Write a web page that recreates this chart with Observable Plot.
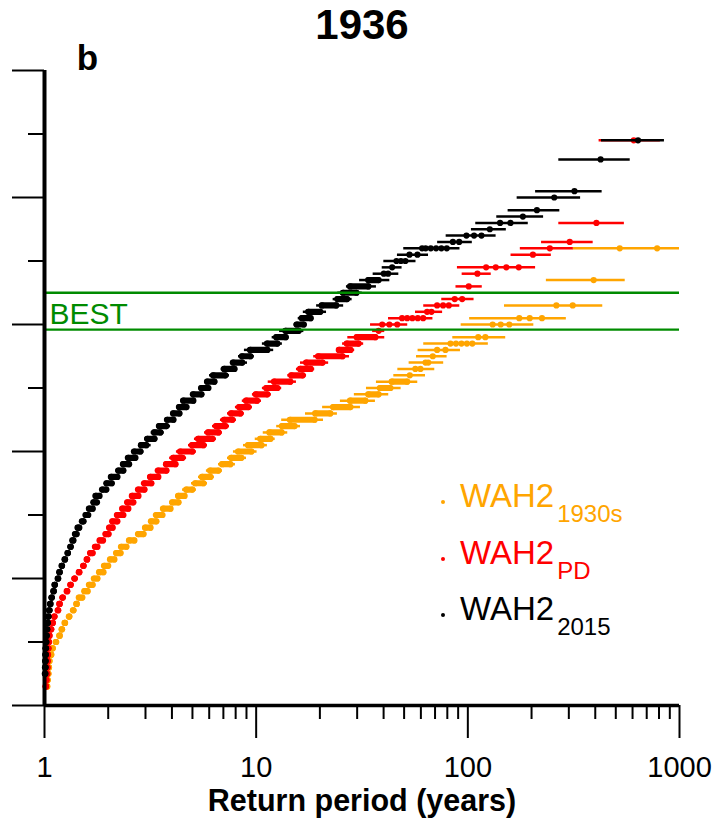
<!DOCTYPE html>
<html>
<head>
<meta charset="utf-8">
<script src="https://cdn.jsdelivr.net/npm/d3@7"></script>
<script src="https://cdn.jsdelivr.net/npm/@observablehq/plot@0.6"></script>
<style>
  body { margin: 0; background: #fff; }
  svg { display: block; }
</style>
</head>
<body>
<div id="chart"></div>
<script>
// ---------- text & ticks ----------
const titleText = "1936";
const panelText = "b";
const xLabelText = "Return period (years)";
const bestLabel = "BEST";
const xMajor = [1, 10, 100, 1000];
const xMinor = [2, 3, 4, 5, 6, 7, 8, 9, 20, 30, 40, 50, 60, 70, 80, 90, 200, 300, 400, 500, 600, 700, 800, 900];
const yMajor = [0, 2, 4, 6, 8, 10];
const yMinor = [1, 3, 5, 7, 9];
const bestRange = [5.92, 6.50];
const legendNames = ["1930s", "PD", "2015"];
const colors = {orange: "#FFA500", red: "#FF0000", black: "#000000", green: "#008B00"};

// ---------- data: [y, ciLow, ciHigh, [return periods of points]] ----------
const blackPoints = [
  [8.9, 428, 849, [637]],
  [8.6, 269, 585, [424]],
  [8.1, 209, 431, [319]],
  [8.0, 171, 341, [256]],
  [7.8, 155, 272, [212]],
  [7.7, 137, 228, [182]],
  [7.6, 109, 193, [142, 159]],
  [7.5, 104, 152, [127]],
  [7.4, 79, 136, [98.5, 107, 116]],
  [7.3, 72, 105, [85, 91]],
  [7.2, 49.8, 91.8, [60.8, 63.2, 66.8, 70.8, 75, 79.5]],
  [7.1, 46.5, 65.2, [53, 57.8]],
  [7.0, 40.1, 56.9, [46, 48.3, 50.7]],
  [6.9, 39.4, 48.9, [43.9]],
  [6.8, 35.7, 47.2, [40.1, 42]]
];
// dense rows: [y, ciLow, ciHigh, firstPoint, lastPoint]  or [y, point]
const blackRows = [
  [6.7, 30.8, 42.8, 34, 37.9], [6.6, 26.7, 37, 27.9, 33.9], [6.5, 24.3, 31.7, 25.8, 29.8],
  [6.4, 23.1, 28.4, 24.3, 26.9], [6.3, 19.3, 25.9, 20.5, 23.9], [6.2, 16.7, 21.5, 17.7, 20.1],
  [6.1, 15.8, 18.7, 16.5, 18.1], [6.0, 15.1, 17.3, 15.6, 16.8], [5.9, 12.9, 16.8, 13.8, 15.9],
  [5.8, 11.9, 14.3, 12.5, 13.8], [5.7, 10.7, 13.3, 11.3, 12.6], [5.6, 8.8, 12.1, 9.4, 11.3],
  [5.5, 8.25, 9.8, 8.6, 9.4], [5.4, 7.56, 9.1, 7.8, 8.6], [5.3, 6.83, 8.19, 7.08, 7.9],
  [5.2, 6.02, 7.48, 6.28, 7.16], [5.1, 5.74, 6.59, 5.89, 6.35], [5.0, 5.4, 6.13, 5.52, 5.95],
  [4.9, 4.9, 5.7, 5.05, 5.52], [4.8, 4.42, 5.22, 4.54, 5.05], [4.7, 4.25, 4.77, 4.34, 4.69],
  [4.6, 3.97, 4.5, 4.07, 4.34], [4.5, 3.72, 4.19, 3.81, 4.07], [4.4, 3.4, 3.94, 3.49, 3.77],
  [4.3, 3.19, 3.68, 3.31, 3.53], [4.2, 2.97, 3.43, 3.07, 3.31], [4.1, 2.78, 3.19, 2.87, 3.03],
  [4.0, 2.61, 2.95, 2.66, 2.84], [3.9, 2.43, 2.78, 2.49, 2.69], [3.8, 2.3, 2.59, 2.36, 2.51],
  [3.7, 2.18, 2.43, 2.24, 2.36], [3.6, 2.03, 2.29, 2.07, 2.21], [3.5, 1.94, 2.14, 1.97, 2.08],
  [3.4, 1.84, 2.03, 1.88, 1.96], [3.3, 1.71, 1.86, 1.75, 1.82], [3.2, 1.68, 1.8, 1.71, 1.77],
  [3.1, 1.61, 1.71, 1.63, 1.69], [3.0, 1.55, 1.63, 1.57, 1.61], [2.9, 1.49, 1.55, 1.51, 1.53],
  [2.8, 1.43, 1.48, 1.44, 1.46], [2.7, 1.39, 1.43, 1.4, 1.42], [2.6, 1.35, 1.38, 1.36, 1.37],
  [2.5, 1.33], [2.4, 1.29], [2.3, 1.25], [2.2, 1.21], [2.1, 1.18], [2.0, 1.16], [1.9, 1.12],
  [1.8, 1.106], [1.7, 1.083], [1.6, 1.067], [1.5, 1.056], [1.4, 1.044], [1.3, 1.036],
  [1.2, 1.03], [1.1, 1.024], [1.0, 1.02], [0.9, 1.016], [0.8, 1.014], [0.7, 1.012],
  [0.6, 1.011], [0.5, 1.009]
];

const redPoints = [
  [8.9, 417, 812, [608]],
  [7.6, 269, 549, [405]],
  [7.3, 223, 391, [303]],
  [7.2, 177, 315, [244]],
  [7.1, 160, 248, [203]],
  [6.9, 89.3, 209, [122, 135.5, 152, 174]],
  [6.8, 94, 129, [111]],
  [6.6, 87.9, 117, [101]],
  [6.4, 75.3, 107, [86.7, 94]],
  [6.3, 61.9, 91.6, [71.6, 76.4, 81.3]],
  [6.2, 56.6, 76, [64.2, 67.3]],
  [6.1, 42.2, 68.4, [48.9, 51.7, 54.7, 58, 61.5]],
  [6.0, 34.7, 52, [39.4, 42.6, 46.4]],
  [5.9, 35.5, 40.5, [37.9]]
];
const redRows = [
  [5.8, 27.1, 40.5, 30, 36.6], [5.7, 25.6, 32.2, 26.9, 30.5], [5.6, 24.1, 29.2, 24.7, 27.9],
  [5.5, 18.7, 27.6, 19.7, 25.6], [5.4, 16.2, 22, 17.3, 20.6], [5.3, 15.5, 18.9, 16.2, 18.1],
  [5.2, 14.1, 17.3, 14.7, 16.6], [5.1, 11.4, 15.5, 12.2, 14.5], [5.0, 10.7, 13.2, 11.2, 12.6],
  [4.9, 9.6, 11.8, 10.0, 11.3], [4.8, 8.6, 10.6, 9.0, 10.1], [4.7, 7.98, 9.6, 8.34, 9.2],
  [4.6, 7.32, 8.8, 7.64, 8.43], [4.5, 6.78, 8.07, 7.08, 7.73], [4.4, 6.22, 7.48, 6.49, 7.16],
  [4.3, 5.7, 6.93, 5.95, 6.64], [4.2, 5.11, 6.49, 5.34, 6.22], [4.1, 4.79, 5.89, 5.0, 5.64],
  [4.0, 4.2, 5.22, 4.39, 5.0], [3.9, 3.9, 4.69, 4.07, 4.49], [3.8, 3.65, 4.3, 3.77, 4.16],
  [3.7, 3.34, 3.9, 3.45, 3.77], [3.6, 3.07, 3.57, 3.17, 3.45], [3.5, 2.87, 3.31, 2.97, 3.2],
  [3.4, 2.72, 3.03, 2.78, 2.97], [3.3, 2.55, 2.84, 2.6, 2.78], [3.2, 2.43, 2.68, 2.47, 2.63],
  [3.1, 2.3, 2.53, 2.34, 2.49], [3.0, 2.17, 2.4, 2.21, 2.36], [2.9, 2.07, 2.25, 2.1, 2.21],
  [2.8, 2.0, 2.13, 2.03, 2.1], [2.7, 1.92, 2.04, 1.95, 2.01], [2.6, 1.81, 1.91, 1.83, 1.89],
  [2.5, 1.72, 1.8, 1.74, 1.78], [2.4, 1.64, 1.7, 1.65, 1.69],
  [2.3, 1.59], [2.2, 1.53], [2.1, 1.46], [2.0, 1.39], [1.9, 1.33], [1.8, 1.28], [1.7, 1.22],
  [1.6, 1.18], [1.5, 1.16], [1.4, 1.115], [1.3, 1.094], [1.2, 1.076], [1.1, 1.056],
  [1.0, 1.05], [0.9, 1.044], [0.8, 1.039], [0.7, 1.036], [0.6, 1.033], [0.5, 1.03],
  [0.4, 1.022], [0.3, 1.016]
];

const orangePoints = [
  [7.2, 314, 1000, [522, 784]],
  [6.7, 235, 554, [393]],
  [6.3, 149, 434, [262, 313]],
  [6.1, 102, 292, [175, 196, 224]],
  [6.0, 93, 205, [131, 143, 157]],
  [5.8, 84.9, 151, [112, 121]],
  [5.7, 61.9, 125, [82.8, 87.9, 93.3, 99, 105]],
  [5.6, 58.2, 92.3, [71.6, 78.4]],
  [5.5, 57.2, 79.8, [68.3]],
  [5.4, 52.8, 76.9, [63.1, 65]],
  [5.3, 46.7, 69.8, [56.5, 59.7]],
  [5.2, 44.7, 63.1, [53.2]]
];
const orangeRows = [
  [5.1, 37, 58, 43.9, 51.7], [5.0, 33.2, 48.4, 38.6, 43.1], [4.9, 29.1, 42.3, 34, 37.9],
  [4.8, 25, 36.6, 27.9, 32.8], [4.7, 20.6, 31.1, 23.2, 27.9], [4.6, 17.1, 24.2, 19.1, 22.4],
  [4.5, 13.2, 20.8, 14.5, 18.9], [4.4, 12.5, 16.2, 13.3, 15.2], [4.3, 10.8, 14.1, 11.6, 13.2],
  [4.2, 9.9, 12.3, 10.5, 11.7], [4.1, 8.71, 11.3, 9.2, 10.6], [4.0, 7.81, 10.1, 8.25, 9.5],
  [3.9, 7.32, 9.0, 7.64, 8.52], [3.8, 6.64, 7.98, 6.93, 7.56], [3.7, 5.82, 6.93, 6.08, 6.64],
  [3.6, 5.34, 6.35, 5.57, 6.08], [3.5, 4.95, 5.89, 5.17, 5.64], [3.4, 4.49, 5.22, 4.69, 5.0],
  [3.3, 4.16, 4.74, 4.3, 4.59], [3.2, 3.9, 4.44, 4.03, 4.3], [3.1, 3.53, 4.07, 3.65, 3.94],
  [3.0, 3.27, 3.73, 3.38, 3.61], [2.9, 3.1, 3.49, 3.2, 3.38], [2.8, 2.93, 3.25, 3.0, 3.17],
  [2.7, 2.72, 3.0, 2.78, 2.94], [2.6, 2.47, 2.72, 2.52, 2.66], [2.5, 2.27, 2.49, 2.31, 2.44],
  [2.4, 2.15, 2.33, 2.19, 2.29], [2.3, 2.02, 2.17, 2.05, 2.14], [2.2, 1.9, 2.03, 1.92, 2.0],
  [2.1, 1.8, 1.92, 1.82, 1.9], [2.0, 1.7, 1.8, 1.72, 1.78], [1.9, 1.61, 1.71, 1.63, 1.69],
  [1.8, 1.54, 1.62, 1.55, 1.6], [1.7, 1.45, 1.52, 1.46, 1.51],
  [1.6, 1.42], [1.5, 1.37], [1.4, 1.31], [1.3, 1.25], [1.2, 1.21], [1.1, 1.18], [1.0, 1.135],
  [0.9, 1.094], [0.8, 1.076], [0.7, 1.056], [0.6, 1.05], [0.5, 1.044], [0.4, 1.036], [0.3, 1.03]
];

// ---------- build mark data ----------
function build(discrete, dense) {
  const bars = [], blobs = [], dots = [];
  for (const [y, lo, hi, pts] of discrete) {
    bars.push({y, lo, hi});
    for (const p of pts) dots.push({x: p, y});
  }
  for (const row of dense) {
    const [y, lo, hi, a, b] = row.length === 2 ? [row[0], row[1], row[1], row[1], row[1]] : row;
    if (hi > lo) bars.push({y, lo, hi});
    blobs.push({y, a, b});
    dots.push({x: a, y}, {x: b, y});
  }
  return {bars, blobs, dots};
}
const series = [
  {color: colors.orange, ...build(orangePoints, orangeRows)},
  {color: colors.red, ...build(redPoints, redRows)},
  {color: colors.black, ...build(blackPoints, blackRows)}
];

const font = "'Liberation Sans', Arial, Helvetica, sans-serif";
const marks = [];
for (const s of series) {
  marks.push(Plot.ruleY(s.bars, {y: "y", x1: "lo", x2: "hi", stroke: s.color, strokeWidth: 2.5}));
  marks.push(Plot.ruleY(s.blobs, {y: "y", x1: "a", x2: "b", stroke: s.color, strokeWidth: 6.2, strokeLinecap: "round"}));
  marks.push(Plot.dot(s.dots, {x: "x", y: "y", r: 3.1, fill: s.color, stroke: "none"}));
}
marks.push(
  Plot.ruleY(bestRange, {x1: 1, x2: 1000, stroke: colors.green, strokeWidth: 2.4}),
  Plot.text([bestLabel], {x: 1, y: bestRange[0], text: d => d, dx: 5, dy: -15, textAnchor: "start", lineAnchor: "middle", fill: colors.green, fontSize: 30}),
  // axes
  Plot.axisY(yMajor, {tickSize: 32, strokeWidth: 2, tickFormat: () => "", label: null}),
  Plot.axisY(yMinor, {tickSize: 16, strokeWidth: 2, tickFormat: () => "", label: null}),
  Plot.axisX(xMajor, {tickSize: 33, tickPadding: 18, strokeWidth: 2, fontSize: 29, tickFormat: d => String(d), label: null}),
  Plot.axisX(xMinor, {tickSize: 14, strokeWidth: 2, tickFormat: () => "", label: null}),
  Plot.ruleX([1], {y1: 0, y2: 10, stroke: "black", strokeWidth: 4}),
  Plot.ruleY([0], {x1: 1, x2: 1000, stroke: "black", strokeWidth: 3.6}),
  // titles
  Plot.text([titleText], {text: d => d, frameAnchor: "top", dy: -45, lineAnchor: "middle", fontSize: 42, fontWeight: "bold"}),
  Plot.text([panelText], {text: d => d, frameAnchor: "top-left", dx: 43, dy: -12, textAnchor: "middle", lineAnchor: "middle", fontSize: 35, fontWeight: "bold"}),
  Plot.text([xLabelText], {text: d => d, frameAnchor: "bottom", dy: 96, lineAnchor: "middle", fontSize: 30.5, fontWeight: "bold"})
);

const chart = Plot.plot({
  width: 717,
  height: 824,
  marginLeft: 44,
  marginRight: 38,
  marginTop: 70,
  marginBottom: 119,
  x: {type: "log", domain: [1, 1000]},
  y: {domain: [0, 10]},
  style: {fontFamily: font, background: "white", color: "black", overflow: "visible"},
  marks
});
document.getElementById("chart").appendChild(chart);

// ---------- legend (inside the svg, with subscripts) ----------
const svg = d3.select(chart);
const legend = svg.append("g").attr("font-family", font).attr("text-anchor", "start");
const legendColors = [colors.orange, colors.red, colors.black];
const legendBase = [507, 564, 620];
legendNames.forEach((name, i) => {
  legend.append("circle").attr("cx", 443).attr("cy", legendBase[i] - 5).attr("r", 2).attr("fill", legendColors[i]);
  const t = legend.append("text").attr("x", 460).attr("y", legendBase[i]).attr("fill", legendColors[i])
    .attr("font-size", 33).attr("text-anchor", "start");
  t.append("tspan").text("WAH2");
  t.append("tspan").attr("dx", 3).attr("dy", 15).attr("font-size", 24).text(name);
});
</script>
</body>
</html>
